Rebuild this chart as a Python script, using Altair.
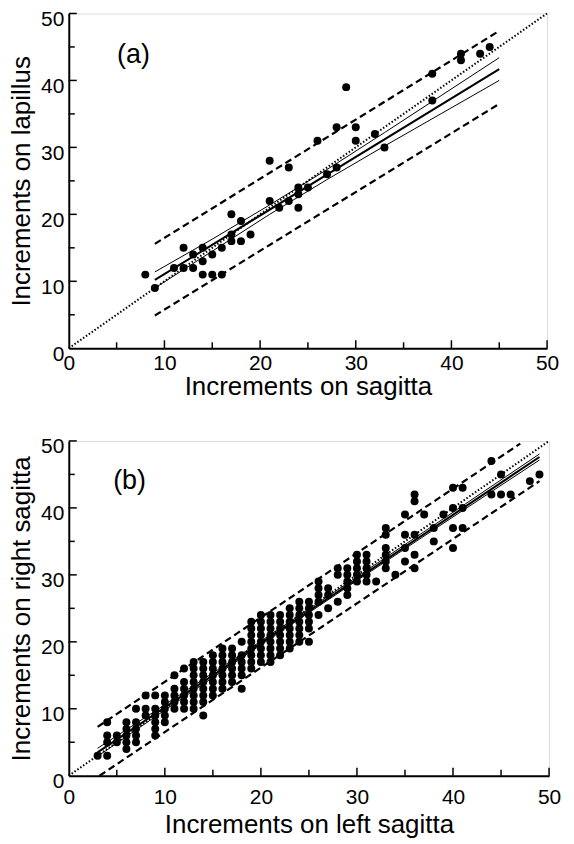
import altair as alt
import pandas as pd

FONT = "Liberation Sans"

# ---------------- Panel (a): lapillus vs sagitta ----------------
a_x = [8, 9, 11, 12, 12, 13, 13, 14, 14, 14, 15, 15, 16, 16, 17, 17, 17, 18, 18, 19,
       21, 21, 22, 23, 23, 24, 24, 24, 25, 26, 27, 28, 28, 29, 30, 30, 32, 33, 38, 38,
       41, 41, 43, 44]
a_y = [11, 9, 12, 12, 15, 12, 14, 15, 13, 11, 14, 11, 15, 11, 20, 17, 16, 19, 16, 17,
       28, 22, 21, 27, 22, 24, 23, 21, 24, 31, 26, 33, 27, 39, 33, 31, 32, 30, 41, 37,
       44, 43, 44, 45]
a_fit_x = [9, 45]
a_fit_y = [10.2, 41.7]
a_ci_x = [9, 15, 21, 27, 33, 39, 45]
a_ci_hi = [11.4, 16.3, 21.4, 26.7, 32.2, 37.8, 43.4]
a_ci_lo = [9.0, 14.5, 20.0, 25.2, 30.2, 35.1, 40.0]
a_pi_x = [9, 45]
a_pi_hi = [15.6, 47.4]
a_pi_lo = [4.9, 36.5]

# ---------------- Panel (b): right vs left sagitta ----------------
b_columns = {
    3: [3],
    4: [3, 5, 6, 8],
    5: [5, 6],
    6: [4, 5, 6, 7, 8],
    7: [5, 6, 7, 8, 10],
    8: [9, 10, 12],
    9: [6, 7, 8, 9, 10, 12],
    10: [8, 9, 10, 11, 12],
    11: [10, 11, 12, 13, 15],
    12: [10, 11, 12, 13, 14, 16],
    13: [10, 11, 12, 13, 14, 15, 16, 17],
    14: [9, 11, 12, 13, 14, 15, 16, 17],
    15: [12, 13, 14, 15, 16, 17, 18],
    16: [13, 14, 15, 16, 17, 18, 19],
    17: [14, 15, 16, 17, 18, 19],
    18: [13, 15, 16, 17, 18, 20],
    19: [16, 17, 18, 19, 20, 21, 22, 23],
    20: [17, 18, 19, 20, 21, 22, 23, 24],
    21: [17, 18, 19, 20, 21, 22, 23, 24],
    22: [18, 19, 20, 21, 22, 23, 24],
    23: [19, 20, 21, 22, 23, 24, 25],
    24: [20, 21, 22, 23, 24, 25, 26],
    25: [20, 22, 23, 24, 25, 26],
    26: [24, 26, 27, 28, 29],
    27: [25, 27, 28],
    28: [26, 30, 31],
    29: [27, 28, 29, 30, 31],
    30: [29, 30, 31, 32, 33],
    31: [29, 30, 31, 32, 33],
    32: [29],
    33: [31, 32, 33, 34, 36, 37],
    34: [30],
    35: [32, 34, 36, 39],
    36: [31, 33, 36, 41, 42],
    37: [39],
    38: [35, 37],
    39: [39],
    40: [34, 37, 40, 43],
    41: [37, 40, 43],
    44: [42, 47],
    45: [42, 45],
    46: [42],
    48: [44],
    49: [45],
}
b_fit_x = [3, 49]
b_fit_y = [3.5, 47.6]
b_ci_x = [3, 10, 20, 30, 40, 49]
b_ci_hi = [4.1, 10.6, 20.1, 29.7, 39.35, 48.05]
b_ci_lo = [2.9, 9.8, 19.55, 29.15, 38.65, 47.15]
b_pi_hi_x = [3, 47]
b_pi_hi_y = [7.3, 49.6]
b_pi_lo_x = [3.2, 49]
b_pi_lo_y = [0, 44.0]

identity_xy = [0, 50]
axis_labels = [0, 10, 20, 30, 40, 50]
major_ticks = [10, 20, 30, 40, 50]
minor_ticks = [5, 15, 25, 35, 45]


def panel(px, py, lines, tag, xtitle, ytitle, W, H, tag_pos, xlab_pad, xtitle_pad):
    xs = alt.Scale(domain=[0, 50], nice=False, zero=False)
    ys = alt.Scale(domain=[0, 50], nice=False, zero=False)
    common = dict(values=axis_labels, ticks=False, grid=False, domainColor="black",
                  domainWidth=2, labelFont=FONT, labelFontSize=21, labelColor="black",
                  titleFont=FONT, titleFontSize=26, titleFontWeight="normal",
                  titleColor="black", labelFlush=False, labelOverlap=False)
    xax = alt.Axis(title=xtitle, labelPadding=xlab_pad, titlePadding=xtitle_pad, **common)
    yax = alt.Axis(title=ytitle, labelPadding=5, titlePadding=6, labelOffset=6, **common)
    X = alt.X("x:Q", scale=xs, axis=xax)
    Y = alt.Y("y:Q", scale=ys, axis=yax)

    layers = []
    # points
    layers.append(alt.Chart(pd.DataFrame({"x": px, "y": py}))
                  .mark_circle(size=64, color="black", opacity=1)
                  .encode(x=X, y=Y))
    # lines
    for xs_, ys_, width, dash in lines:
        m = dict(color="black", strokeWidth=width)
        if dash:
            m["strokeDash"] = dash
        layers.append(alt.Chart(pd.DataFrame({"x": xs_, "y": ys_}))
                      .mark_line(**m).encode(x=X, y=Y))
    # inward ticks
    for vals, ln in ((major_ticks, 8), (minor_ticks, 6)):
        layers.append(alt.Chart(pd.DataFrame({"x": vals}))
                      .mark_rule(color="black", strokeWidth=1.5)
                      .encode(x=X, y=alt.value(H), y2=alt.value(H - ln)))
        layers.append(alt.Chart(pd.DataFrame({"y": vals}))
                      .mark_rule(color="black", strokeWidth=1.5)
                      .encode(y=Y, x=alt.value(0), x2=alt.value(ln)))
    # panel tag
    layers.append(alt.Chart(pd.DataFrame({"t": [tag]}))
                  .mark_text(font=FONT, fontSize=27, color="black", align="center",
                             baseline="middle")
                  .encode(x=alt.value(tag_pos[0]), y=alt.value(tag_pos[1]), text="t:N"))
    return alt.layer(*layers).properties(width=W, height=H)


a_lines = [
    (identity_xy, identity_xy, 2, [1.5, 2]),
    (a_pi_x, a_pi_hi, 2.2, [7, 4]),
    (a_pi_x, a_pi_lo, 2.2, [7, 4]),
    (a_ci_x, a_ci_hi, 1, None),
    (a_ci_x, a_ci_lo, 1, None),
    (a_fit_x, a_fit_y, 2, None),
]
b_x, b_y = [], []
for k, vals in b_columns.items():
    for v in vals:
        b_x.append(k)
        b_y.append(v)
b_lines = [
    (identity_xy, identity_xy, 2, [1.5, 2]),
    (b_pi_hi_x, b_pi_hi_y, 2.2, [7, 4]),
    (b_pi_lo_x, b_pi_lo_y, 2.2, [7, 4]),
    (b_ci_x, b_ci_hi, 1, None),
    (b_ci_x, b_ci_lo, 1, None),
    (b_fit_x, b_fit_y, 2, None),
]

pa = panel(a_x, a_y, a_lines, "(a)", "Increments on sagitta", "Increments on lapillus",
           480, 336, (65, 42), 4, 0)
pb = panel(b_x, b_y, b_lines, "(b)", "Increments on left sagitta",
           "Increments on right sagitta", 482, 336, (61, 40), 11, 4)

chart = (alt.vconcat(pa, pb, spacing=35)
         .properties(padding={"left": 0, "top": -2, "right": 4, "bottom": 0})
         .configure_view(stroke=None)
         .configure(background="white"))

chart.save("out.html", embed_options={"renderer": "svg", "actions": False})
